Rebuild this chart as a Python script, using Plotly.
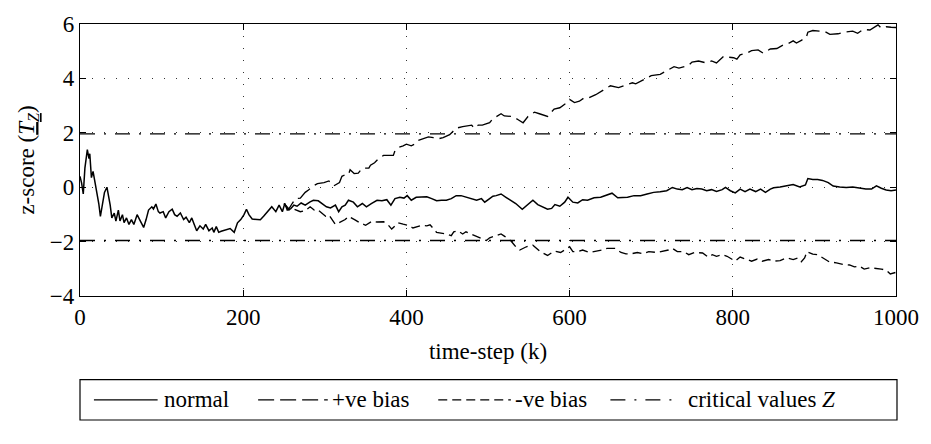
import plotly.graph_objects as go

# ---------------- data ----------------
normal_t = [0, 2, 4, 6, 9, 11, 12, 14, 16, 19, 21, 23, 25, 28, 30, 33, 35, 37, 39, 42, 44, 47, 49, 52, 54, 57,
            60, 63, 66, 70, 74, 78, 81, 84, 88, 90, 93, 96, 98, 102, 105, 109, 113, 116, 119, 123, 127, 130,
            134, 137, 140, 143, 147, 151, 154, 158, 162, 164, 167, 170, 173, 176, 179, 184, 189, 193, 197, 201,
            204, 207, 211, 216, 221, 225, 230, 235, 240, 244, 248, 251, 254, 258, 262, 266, 271, 276, 282, 286,
            292, 296, 302, 307, 313, 317, 321, 325, 329, 335, 340, 346, 351, 357, 364, 370, 376, 381, 386, 392,
            397, 401, 406, 412, 418, 425, 431, 437, 443, 449, 455, 461, 467, 473, 479, 486, 492, 496, 502, 506,
            510, 516, 522, 528, 534, 542, 549, 555, 561, 567, 573, 578, 582, 588, 594, 598, 604, 610, 616, 622,
            630, 638, 644, 652, 659, 667, 671, 679, 687, 695, 703, 711, 719, 726, 732, 738, 744, 750, 756, 762,
            768, 774, 780, 787, 791, 797, 803, 809, 815, 821, 828, 834, 840, 846, 850, 858, 866, 874, 882, 889,
            892, 898, 904, 910, 917, 923, 931, 939, 947, 955, 963, 970, 976, 982, 988, 994, 1000]
normal_z = [0.40, 0.15, -0.25, 0.70, 1.38, 1.05, 1.23, 0.35, 0.58, 0.10, -0.30, -0.60, -1.07, -0.53, -0.19, 0.00,
            -0.30, -0.66, -1.13, -0.95, -1.25, -0.84, -1.24, -1.01, -1.30, -1.13, -1.37, -1.19, -1.37, -1.01,
            -1.25, -1.48, -1.19, -0.84, -0.72, -0.80, -0.62, -0.90, -0.95, -0.90, -1.13, -0.90, -0.81, -1.01,
            -1.07, -0.95, -1.19, -1.10, -1.30, -1.13, -1.37, -1.60, -1.42, -1.54, -1.37, -1.60, -1.50, -1.66,
            -1.45, -1.66, -1.62, -1.60, -1.57, -1.52, -1.66, -1.31, -1.19, -1.01, -0.81, -1.01, -1.17, -1.19,
            -1.20, -1.07, -0.90, -0.72, -0.90, -0.66, -0.90, -0.60, -0.84, -0.80, -0.66, -0.70, -0.58, -0.66,
            -0.54, -0.48, -0.50, -0.58, -0.72, -0.76, -0.66, -0.90, -0.72, -0.66, -0.48, -0.55, -0.72, -0.60,
            -0.72, -0.60, -0.48, -0.50, -0.46, -0.66, -0.42, -0.37, -0.40, -0.31, -0.48, -0.37, -0.37, -0.35,
            -0.42, -0.50, -0.48, -0.48, -0.42, -0.31, -0.31, -0.37, -0.42, -0.48, -0.42, -0.55, -0.42, -0.33,
            -0.31, -0.25, -0.37, -0.48, -0.60, -0.81, -0.64, -0.48, -0.64, -0.72, -0.81, -0.78, -0.64, -0.70,
            -0.55, -0.37, -0.55, -0.58, -0.46, -0.48, -0.39, -0.37, -0.31, -0.22, -0.39, -0.37, -0.37, -0.31,
            -0.31, -0.25, -0.19, -0.17, -0.13, -0.01, -0.07, -0.09, -0.01, -0.09, -0.05, -0.07, -0.13, -0.09,
            -0.16, -0.09, -0.01, -0.13, -0.21, -0.07, -0.16, -0.07, -0.16, -0.07, -0.19, -0.07, -0.02, 0.01,
            0.05, 0.10, 0.01, 0.08, 0.32, 0.28, 0.28, 0.25, 0.17, 0.04, 0.01, -0.01, 0.01, -0.04, -0.07, -0.07,
            0.05, -0.04, -0.10, -0.13, -0.10]

pos_t = [250, 256, 260, 264, 270, 276, 280, 286, 291, 299, 305, 311, 318, 321, 325, 329, 331, 336, 341, 346,
         354, 356, 361, 366, 372, 377, 384, 386, 390, 396, 400, 406, 410, 413, 419, 427, 433, 439, 445, 453,
         457, 461, 469, 475, 480, 483, 488, 493, 502, 506, 510, 516, 520, 530, 537, 543, 549, 557, 563, 573,
         581, 588, 594, 600, 606, 612, 618, 624, 632, 640, 650, 660, 670, 677, 681, 691, 700, 711, 720, 728,
         734, 740, 746, 750, 758, 766, 774, 780, 789, 795, 801, 805, 809, 817, 823, 831, 837, 846, 854, 864,
         869, 874, 878, 884, 890, 892, 898, 906, 913, 919, 929, 937, 947, 953, 960, 968, 974, 978, 982, 988,
         994, 1000]
pos_z = [-0.60, -0.80, -0.60, -0.42, -0.40, -0.19, -0.10, 0.05, 0.13, 0.17, 0.23, 0.05, 0.17, 0.40, 0.46, 0.46,
         0.64, 0.50, 0.52, 0.70, 0.70, 0.81, 0.90, 1.05, 1.17, 1.17, 1.17, 1.34, 1.46, 1.52, 1.58, 1.52, 1.58,
         1.70, 1.76, 1.85, 1.82, 1.78, 1.82, 1.93, 2.05, 2.17, 2.23, 2.25, 2.28, 2.17, 2.28, 2.28, 2.37, 2.52,
         2.60, 2.70, 2.62, 2.60, 2.48, 2.37, 2.60, 2.76, 2.70, 2.60, 2.87, 2.92, 3.05, 3.23, 3.11, 3.16, 3.29,
         3.29, 3.40, 3.54, 3.73, 3.66, 3.76, 3.84, 3.80, 3.96, 4.10, 4.15, 4.29, 4.43, 4.38, 4.43, 4.48, 4.60,
         4.64, 4.58, 4.64, 4.57, 4.82, 4.78, 4.76, 4.71, 4.87, 4.93, 5.02, 5.05, 4.93, 5.08, 5.10, 5.27, 5.30,
         5.38, 5.30, 5.40, 5.50, 5.70, 5.76, 5.74, 5.72, 5.62, 5.64, 5.70, 5.74, 5.66, 5.80, 5.78, 5.90, 5.97,
         5.85, 5.90, 5.88, 5.87]

neg_t = [250, 256, 262, 270, 276, 282, 287, 291, 301, 305, 313, 317, 325, 329, 333, 337, 343, 350, 358, 364,
         372, 378, 382, 390, 396, 402, 408, 419, 425, 429, 437, 443, 449, 455, 458, 463, 469, 473, 479, 488,
         494, 498, 502, 508, 513, 516, 520, 528, 533, 539, 547, 555, 564, 573, 581, 589, 600, 604, 610, 616,
         624, 632, 640, 646, 656, 663, 669, 675, 683, 690, 697, 707, 713, 721, 726, 732, 740, 746, 753, 763,
         770, 775, 780, 787, 793, 803, 809, 815, 823, 830, 836, 844, 850, 858, 866, 874, 880, 884, 888, 891,
         898, 904, 910, 918, 927, 935, 943, 949, 955, 961, 968, 976, 982, 988, 993, 1000]
neg_z = [-0.60, -0.84, -0.80, -0.90, -0.86, -0.72, -0.84, -0.82, -1.07, -1.02, -1.37, -1.30, -1.19, -1.07,
         -1.15, -1.20, -1.31, -1.40, -1.25, -1.28, -1.27, -1.40, -1.54, -1.31, -1.36, -1.40, -1.50, -1.40,
         -1.42, -1.38, -1.66, -1.68, -1.72, -1.78, -1.64, -1.60, -1.72, -1.64, -1.72, -1.84, -1.90, -1.96,
         -1.86, -1.80, -1.74, -1.72, -1.80, -1.97, -2.15, -2.31, -2.19, -2.13, -2.37, -2.51, -2.35, -2.40,
         -2.19, -2.37, -2.37, -2.31, -2.40, -2.36, -2.31, -2.25, -2.25, -2.40, -2.45, -2.45, -2.40, -2.45,
         -2.37, -2.40, -2.37, -2.31, -2.25, -2.37, -2.37, -2.48, -2.40, -2.42, -2.57, -2.48, -2.54, -2.48,
         -2.54, -2.72, -2.57, -2.64, -2.72, -2.64, -2.72, -2.66, -2.72, -2.70, -2.60, -2.66, -2.60, -2.74,
         -2.60, -2.37, -2.46, -2.48, -2.60, -2.74, -2.78, -2.84, -2.86, -2.93, -2.90, -3.01, -2.96, -2.98,
         -3.01, -3.05, -3.19, -3.13]

crit_t = [0, 1000]
crit_upper = [1.96, 1.96]
crit_lower = [-1.96, -1.96]

x_ticks = [0, 200, 400, 600, 800, 1000]
y_ticks = [-4, -2, 0, 2, 4, 6]

legend_labels = ["normal", "+ve bias", "-ve bias", "critical values <i>Z</i>"]

# ---------------- styles ----------------
FONT = "Liberation Serif"
W, H = 931, 444
ML, MR, MT, MB = 80, 31, 13, 148
PW, PH = W - ML - MR, H - MT - MB

DASH_POS = "16px,6px"
DASH_NEG = "9px,5px"
DASH_CRIT = "15px,9px,2px,9px"

fig = go.Figure()
line_w = 1.35
fig.add_trace(go.Scatter(x=crit_t, y=crit_upper, mode="lines", name="critical values",
                         line=dict(color="black", width=line_w, dash=DASH_CRIT), showlegend=False))
fig.add_trace(go.Scatter(x=crit_t, y=crit_lower, mode="lines", name="critical values",
                         line=dict(color="black", width=line_w, dash=DASH_CRIT), showlegend=False))
fig.add_trace(go.Scatter(x=neg_t, y=neg_z, mode="lines", name="-ve bias",
                         line=dict(color="black", width=line_w, dash=DASH_NEG), showlegend=False))
fig.add_trace(go.Scatter(x=pos_t, y=pos_z, mode="lines", name="+ve bias",
                         line=dict(color="black", width=line_w, dash=DASH_POS), showlegend=False))
fig.add_trace(go.Scatter(x=normal_t, y=normal_z, mode="lines", name="normal",
                         line=dict(color="black", width=1.5), showlegend=False))

axis_common = dict(
    showline=True, linecolor="black", linewidth=1.4, mirror="ticks",
    ticks="inside", ticklen=6, tickwidth=1.3, tickcolor="black",
    showgrid=True, gridcolor="#333", gridwidth=1, griddash="1px,11px",
    zeroline=False, tickfont=dict(family=FONT, size=23, color="black"),
)
fig.update_xaxes(range=[0, 1000], tickvals=x_ticks, **axis_common,
                 title=dict(text="time-step (k)", font=dict(family=FONT, size=23, color="black"), standoff=14))
fig.update_yaxes(range=[-4, 6], tickvals=y_ticks, **axis_common,
                 title=dict(text="z-score (<u><i>T</i><sub><i>Z</i></sub></u>)",
                            font=dict(family=FONT, size=23, color="black"), standoff=8))


# ---------------- custom legend box (pixel -> paper helpers) ----------------
def px_x(p):
    return (p - ML) / PW


def px_y(p):
    return (H - MB - p) / PH


box_l, box_r, box_t, box_b = 80, 901, 383, 425
mid = (box_t + box_b) / 2
shapes = [dict(type="rect", xref="paper", yref="paper", x0=px_x(box_l), x1=px_x(box_r),
               y0=px_y(box_b), y1=px_y(box_t), line=dict(color="black", width=1.2), fillcolor="white")]
samples = [(94, 158, None), (259, 329, DASH_POS), (440, 513, DASH_NEG), (613, 680, DASH_CRIT)]
text_x = [162, 331, 515, 689]
annotations = []
for (x0, x1, d), tx, lab in zip(samples, text_x, legend_labels):
    ln = dict(color="black", width=1.3)
    if d:
        ln["dash"] = d
    shapes.append(dict(type="line", xref="paper", yref="paper", x0=px_x(x0), x1=px_x(x1),
                       y0=px_y(mid), y1=px_y(mid), line=ln))
    annotations.append(dict(text=lab, xref="paper", yref="paper", x=px_x(tx), y=px_y(mid),
                            xanchor="left", yanchor="middle", showarrow=False,
                            font=dict(family=FONT, size=23, color="black")))

fig.update_layout(
    width=W, height=H, margin=dict(l=ML, r=MR, t=MT, b=MB),
    paper_bgcolor="white", plot_bgcolor="white",
    shapes=shapes, annotations=annotations, showlegend=False,
)

fig.write_html("out.html")
